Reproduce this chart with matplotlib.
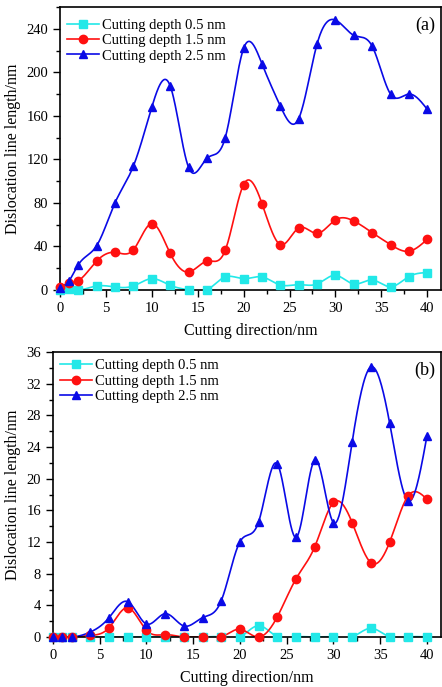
import numpy as np
import matplotlib
matplotlib.use("Agg")
import matplotlib.pyplot as plt
from matplotlib.ticker import MultipleLocator

# ---------------- data ----------------
x = [0, 1, 2, 4, 6, 8, 10, 12, 14, 16, 18, 20, 22, 24, 26, 28, 30, 32, 34, 36, 38, 40]
labels = ["Cutting depth 0.5 nm", "Cutting depth 1.5 nm", "Cutting depth 2.5 nm"]

a_05 = [0, 0.5, 0, 3.7, 2.8, 3.7, 10.4, 4.3, 0, 0, 12, 10.4, 12, 4.6, 4.9, 5.5, 13.5, 5.5, 9.2, 3, 12.3, 16]
a_15 = [3, 6, 8.6, 26.7, 34.6, 37, 61, 33.7, 16.5, 26.4, 36.5, 96.9, 79.4, 41.7, 57, 52, 64.4, 63.4, 52.7, 41.7, 35.6, 46.6]
a_25 = [2, 8.6, 23.3, 40.8, 80.3, 114, 168, 187.6, 112.8, 121, 140, 222, 207.8, 169, 157.5, 226, 248, 234, 224, 180, 180, 166]

b_05 = [0, 0, 0, 0, 0, 0, 0, 0, 0, 0, 0, 0, 1.43, 0, 0, 0, 0, 0, 1.1, 0, 0, 0]
b_15 = [0, 0, 0, 0.2, 1.18, 3.7, 0.84, 0.3, 0, 0, 0, 0.97, 0, 2.57, 7.37, 11.41, 17.0, 14.44, 9.39, 11.96, 17.85, 17.4]
b_25 = [0, 0, 0, 0.63, 2.45, 4.46, 1.64, 2.95, 1.39, 2.45, 4.59, 12.04, 14.57, 21.85, 12.59, 22.36, 14.44, 24.67, 34.1, 27.07, 17.18, 25.4]

colors = ["#22E8E8", "#FF1010", "#0A0AE6"]
markers = ["s", "o", "^"]


def natural_spline(xs, ys, n=600):
    xs = np.asarray(xs, float)
    ys = np.asarray(ys, float)
    m = len(xs)
    h = np.diff(xs)
    A = np.zeros((m, m))
    r = np.zeros(m)
    A[0, 0] = 1
    A[-1, -1] = 1
    for i in range(1, m - 1):
        A[i, i - 1] = h[i - 1]
        A[i, i] = 2 * (h[i - 1] + h[i])
        A[i, i + 1] = h[i]
        r[i] = 3 * ((ys[i + 1] - ys[i]) / h[i] - (ys[i] - ys[i - 1]) / h[i - 1])
    c = np.linalg.solve(A, r)
    b = (ys[1:] - ys[:-1]) / h - h * (2 * c[:-1] + c[1:]) / 3
    d = (c[1:] - c[:-1]) / (3 * h)
    xx = np.linspace(xs[0], xs[-1], n)
    idx = np.clip(np.searchsorted(xs, xx, side="right") - 1, 0, m - 2)
    t = xx - xs[idx]
    yy = ys[idx] + b[idx] * t + c[idx] * t ** 2 + d[idx] * t ** 3
    return xx, yy


plt.rcParams["font.family"] = ["Liberation Serif", "DejaVu Serif"]
plt.rcParams["font.size"] = 10

fig = plt.figure(figsize=(4.42, 6.87), dpi=100)
ax1 = fig.add_axes([60 / 442, 1 - 290 / 687, 381 / 442, 283 / 687])
ax2 = fig.add_axes([53 / 442, 1 - 637 / 687, 388 / 442, 285 / 687])


def draw(ax, series, ylim, ymaj, ymin, tag, leg_top):
    for ys, lab, col, mk in zip(series, labels, colors, markers):
        xx, yy = natural_spline(x, ys)
        ax.plot(xx, yy, color=col, lw=1.2, zorder=2)
        ax.plot(x, ys, linestyle="none", marker=mk, color=col, ms=6, clip_on=False, zorder=3)
        ax.plot([], [], color=col, lw=1.2, marker=mk, ms=6, label=lab)
    ax.set_xlim(0, 41.5)
    ax.set_ylim(*ylim)
    ax.xaxis.set_major_locator(MultipleLocator(5))
    ax.xaxis.set_minor_locator(MultipleLocator(2.5))
    ax.yaxis.set_major_locator(MultipleLocator(ymaj))
    ax.yaxis.set_minor_locator(MultipleLocator(ymin))
    ax.tick_params(which="major", direction="out", length=5, width=1, labelsize=10.5)
    ax.tick_params(which="minor", direction="out", length=3, width=1)
    for s in ax.spines.values():
        s.set_linewidth(1.2)
    ax.set_xlabel("Cutting direction/nm", fontsize=11.5, labelpad=6)
    ax.set_ylabel("Dislocation line length/nm", fontsize=11.5, labelpad=4)
    ax.legend(loc="upper left", bbox_to_anchor=(0.0, leg_top), frameon=False, fontsize=10.5,
              handlelength=2.2, handletextpad=0.2, labelspacing=0.15, borderaxespad=0.2,
              borderpad=0.3)
    ax.text(0.985, 0.965, tag, transform=ax.transAxes, ha="right", va="top", fontsize=13)


draw(ax1, [a_05, a_15, a_25], (0, 260), 40, 20, "(a)", 0.985)
draw(ax2, [b_05, b_15, b_25], (0, 36), 4, 2, "(b)", 1.0)

fig.savefig("out.png", dpi=100)
